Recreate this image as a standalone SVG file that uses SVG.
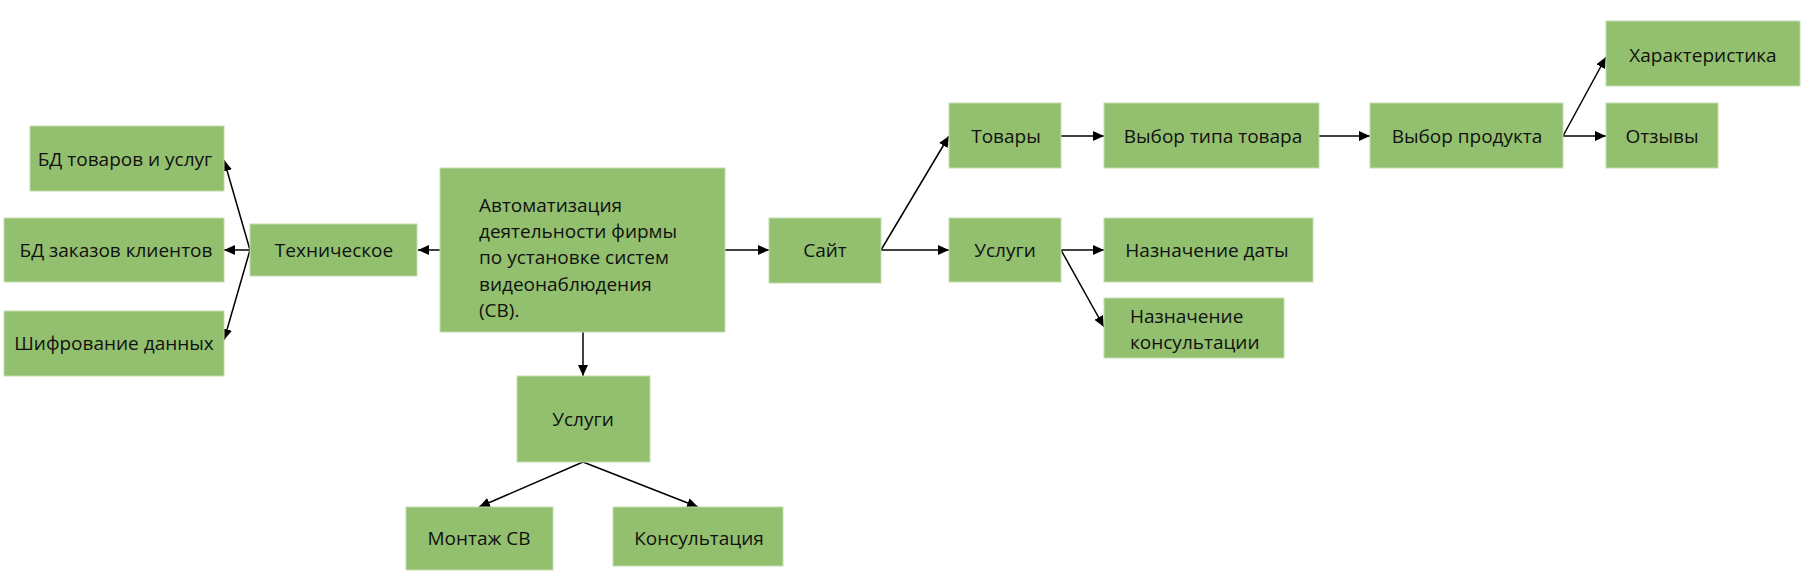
<svg xmlns="http://www.w3.org/2000/svg" width="1804" height="575" viewBox="0 0 1804 575">
<style>
.n{fill:#93c06f;stroke:#c3ddb0;stroke-width:1}
.t{font-family:"Open Sans","Noto Sans","DejaVu Sans",sans-serif;font-size:19px;fill:#111;text-anchor:middle}
.l{text-anchor:start}
.c{fill:none;stroke:#000;stroke-width:1.5;marker-end:url(#a)}
</style>
<defs>
<marker id="a" markerUnits="userSpaceOnUse" markerWidth="12" markerHeight="10" refX="11" refY="5" orient="auto">
<path d="M0,0 L11,5 L0,10 z" fill="#000"/>
</marker>
</defs>
<rect width="1804" height="575" fill="#fff"/>
<g id="connectors">
<path class="c" d="M440,250 L418,250"/>
<path class="c" d="M250,250 L224,160"/>
<path class="c" d="M250,250 L224,250"/>
<path class="c" d="M250,250 L224,340"/>
<path class="c" d="M725,250 L769,250"/>
<path class="c" d="M583,332 L583,376"/>
<path class="c" d="M583,462 L479,507"/>
<path class="c" d="M583,462 L698,507"/>
<path class="c" d="M881,250 L949,136"/>
<path class="c" d="M881,250 L949,250"/>
<path class="c" d="M1061,136 L1104,136"/>
<path class="c" d="M1319,136 L1370,136"/>
<path class="c" d="M1563,136 L1606,57"/>
<path class="c" d="M1563,136 L1606,136"/>
<path class="c" d="M1061,250 L1104,250"/>
<path class="c" d="M1061,250 L1104,327"/>
</g>
<g id="main"><rect class="n" x="440" y="168" width="285" height="164"/>
<text class="t l" x="479" y="212">Автоматизация</text>
<text class="t l" x="479" y="238">деятельности фирмы</text>
<text class="t l" x="479" y="264">по установке систем</text>
<text class="t l" x="479" y="291">видеонаблюдения</text>
<text class="t l" x="479" y="317">(СВ).</text></g>
<g id="tech"><rect class="n" x="250" y="224" width="167" height="52"/><text class="t" x="334" y="257">Техническое</text></g>
<g id="bd1"><rect class="n" x="30" y="126" width="194" height="65"/><text class="t" x="125" y="166">БД товаров и услуг</text></g>
<g id="bd2"><rect class="n" x="4" y="218" width="220" height="64"/><text class="t" x="116" y="257">БД заказов клиентов</text></g>
<g id="enc"><rect class="n" x="4" y="311" width="220" height="65"/><text class="t" x="114" y="350">Шифрование данных</text></g>
<g id="site"><rect class="n" x="769" y="218" width="112" height="65"/><text class="t" x="825" y="257">Сайт</text></g>
<g id="services2"><rect class="n" x="517" y="376" width="133" height="86"/><text class="t" x="583" y="426">Услуги</text></g>
<g id="mount"><rect class="n" x="406" y="507" width="147" height="63"/><text class="t" x="479" y="545">Монтаж СВ</text></g>
<g id="consult"><rect class="n" x="613" y="507" width="170" height="59"/><text class="t" x="699" y="545">Консультация</text></g>
<g id="goods"><rect class="n" x="949" y="103" width="112" height="65"/><text class="t" x="1006" y="143">Товары</text></g>
<g id="type"><rect class="n" x="1104" y="103" width="215" height="65"/><text class="t" x="1213" y="143">Выбор типа товара</text></g>
<g id="product"><rect class="n" x="1370" y="103" width="193" height="65"/><text class="t" x="1467" y="143">Выбор продукта</text></g>
<g id="char"><rect class="n" x="1606" y="21" width="194" height="65"/><text class="t" x="1703" y="62">Характеристика</text></g>
<g id="reviews"><rect class="n" x="1606" y="103" width="112" height="65"/><text class="t" x="1662" y="143">Отзывы</text></g>
<g id="services"><rect class="n" x="949" y="218" width="112" height="64"/><text class="t" x="1005" y="257">Услуги</text></g>
<g id="date"><rect class="n" x="1104" y="218" width="209" height="64"/><text class="t" x="1207" y="257">Назначение даты</text></g>
<g id="consult2"><rect class="n" x="1104" y="298" width="180" height="60"/>
<text class="t l" x="1130" y="323">Назначение</text>
<text class="t l" x="1130" y="349">консультации</text></g>
</svg>
